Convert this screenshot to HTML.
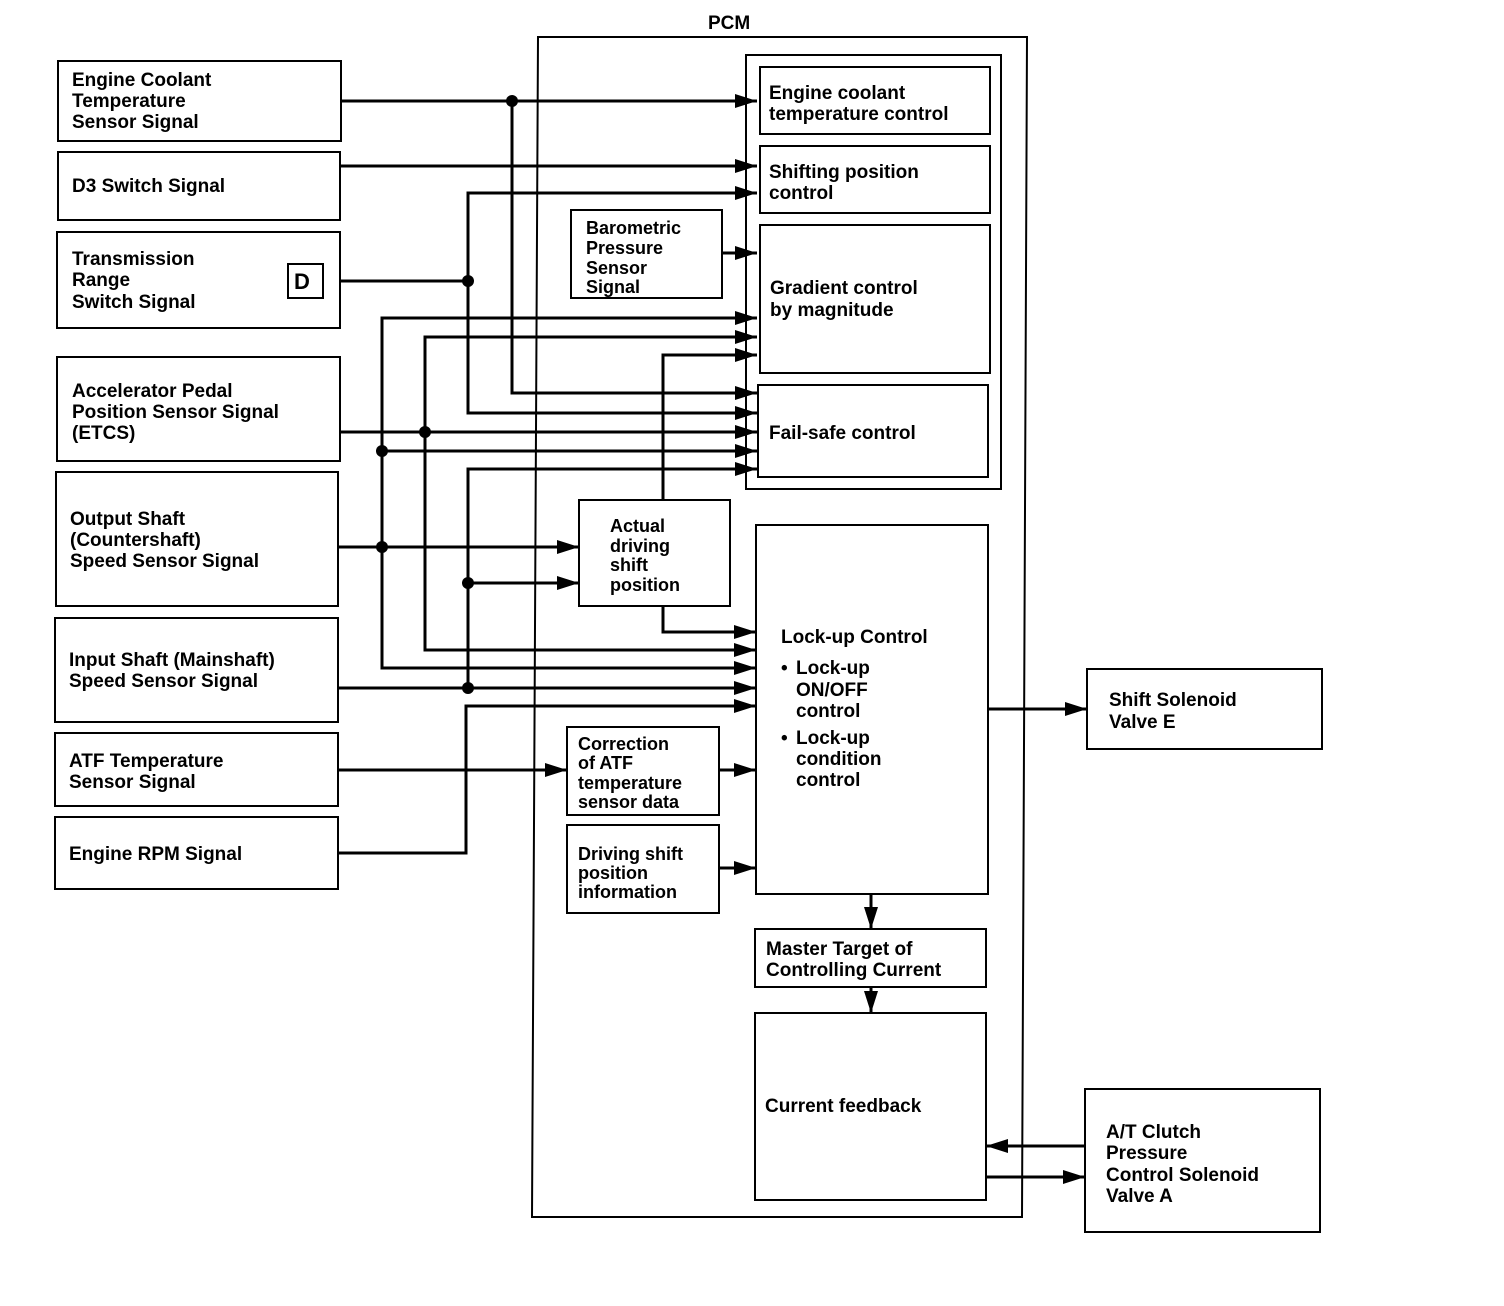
<!DOCTYPE html>
<html><head><meta charset="utf-8"><style>
html,body{margin:0;padding:0;background:#fff;}
svg{display:block;}
text{font-family:"Liberation Sans",sans-serif;font-weight:bold;font-size:19px;fill:#000;}
</style></head><body>
<svg width="1504" height="1306" viewBox="0 0 1504 1306" xmlns="http://www.w3.org/2000/svg">
<defs>
<marker id="a" markerWidth="10" markerHeight="8" refX="10" refY="4" orient="auto" markerUnits="userSpaceOnUse" viewBox="0 0 10 8">
<path d="M0,0 L10,4 L0,8 z" fill="#000"/></marker>
<marker id="b" markerWidth="22" markerHeight="14" refX="22" refY="7" orient="auto" markerUnits="userSpaceOnUse" viewBox="0 0 22 14">
<path d="M0,0 L22,7 L0,14 z" fill="#000"/></marker>
</defs>
<g fill="none" stroke="#000" stroke-width="2">
<!-- PCM -->
<path d="M538,37 L1027,37 L1022,1217 L532,1217 Z"/>
<rect x="746" y="55" width="255" height="434"/>
<rect x="760" y="67" width="230" height="67"/>
<rect x="760" y="146" width="230" height="67"/>
<rect x="760" y="225" width="230" height="148"/>
<rect x="758" y="385" width="230" height="92"/>
<rect x="571" y="210" width="151" height="88"/>
<rect x="579" y="500" width="151" height="106"/>
<rect x="756" y="525" width="232" height="369"/>
<rect x="567" y="727" width="152" height="88"/>
<rect x="567" y="825" width="152" height="88"/>
<rect x="755" y="929" width="231" height="58"/>
<rect x="755" y="1013" width="231" height="187"/>
<rect x="1087" y="669" width="235" height="80"/>
<rect x="1085" y="1089" width="235" height="143"/>
<!-- left boxes -->
<rect x="58" y="61" width="283" height="80"/>
<rect x="58" y="152" width="282" height="68"/>
<rect x="57" y="232" width="283" height="96"/>
<rect x="288" y="264" width="35" height="34"/>
<rect x="57" y="357" width="283" height="104"/>
<rect x="56" y="472" width="282" height="134"/>
<rect x="55" y="618" width="283" height="104"/>
<rect x="55" y="733" width="283" height="73"/>
<rect x="55" y="817" width="283" height="72"/>
</g>
<g fill="none" stroke="#000" stroke-width="3" marker-end="url(#b)">
<path d="M341,101 H757"/>
<path d="M512,101 V393 H757"/>
<path d="M340,166 H757"/>
<path d="M468,281 V193 H757"/>
<path d="M340,281 H468 V413 H757"/>
<path d="M722,253 H757"/>
<path d="M382,451 V318 H757"/>
<path d="M425,432 V337 H757"/>
<path d="M663,500 V355 H757"/>
<path d="M340,432 H757"/>
<path d="M382,451 H757"/>
<path d="M468,688 V469 H757"/>
<path d="M338,547 H579"/>
<path d="M468,583 H579"/>
<path d="M663,606 V632 H756"/>
<path d="M425,432 V650 H756"/>
<path d="M382,451 V668 H756"/>
<path d="M338,688 H756"/>
<path d="M338,853 H466 V706 H756"/>
<path d="M338,770 H567"/>
<path d="M719,770 H756"/>
<path d="M719,868 H756"/>
<path d="M988,709 H1087"/>
<path d="M871,894 V929"/>
<path d="M871,987 V1013"/>
<path d="M1085,1146 H986"/>
<path d="M986,1177 H1085"/>
</g>
<g fill="#000">
<circle cx="512" cy="101" r="6"/><circle cx="468" cy="281" r="6"/>
<circle cx="425" cy="432" r="6"/><circle cx="382" cy="451" r="6"/>
<circle cx="382" cy="547" r="6"/><circle cx="468" cy="583" r="6"/>
<circle cx="468" cy="688" r="6"/>
</g>
<text x="708" y="29">PCM</text>
<text x="72" y="86">Engine Coolant</text><text x="72" y="107">Temperature</text><text x="72" y="128">Sensor Signal</text>
<text x="72" y="192">D3 Switch Signal</text>
<text x="72" y="265">Transmission</text><text x="72" y="286">Range</text><text x="72" y="308">Switch Signal</text>
<text x="294" y="289" style="font-size:22px">D</text>
<text x="72" y="397">Accelerator Pedal</text><text x="72" y="418">Position Sensor Signal</text><text x="72" y="439">(ETCS)</text>
<text x="70" y="525">Output Shaft</text><text x="70" y="546">(Countershaft)</text><text x="70" y="567">Speed Sensor Signal</text>
<text x="69" y="666">Input Shaft (Mainshaft)</text><text x="69" y="687">Speed Sensor Signal</text>
<text x="69" y="767">ATF Temperature</text><text x="69" y="788">Sensor Signal</text>
<text x="69" y="860">Engine RPM Signal</text>
<text x="769" y="99">Engine coolant</text><text x="769" y="120">temperature control</text>
<text x="769" y="178">Shifting position</text><text x="769" y="199">control</text>
<text x="586" y="234" style="font-size:18px">Barometric</text><text x="586" y="254" style="font-size:18px">Pressure</text><text x="586" y="274" style="font-size:18px">Sensor</text><text x="586" y="293" style="font-size:18px">Signal</text>
<text x="770" y="294">Gradient control</text><text x="770" y="316">by magnitude</text>
<text x="769" y="439">Fail-safe control</text>
<text x="610" y="532" style="font-size:18px">Actual</text><text x="610" y="552" style="font-size:18px">driving</text><text x="610" y="571" style="font-size:18px">shift</text><text x="610" y="591" style="font-size:18px">position</text>
<text x="781" y="643">Lock-up Control</text>
<text x="781" y="674">•</text><text x="796" y="674">Lock-up</text><text x="796" y="696">ON/OFF</text><text x="796" y="717">control</text>
<text x="781" y="744">•</text><text x="796" y="744">Lock-up</text><text x="796" y="765">condition</text><text x="796" y="786">control</text>
<text x="578" y="750" style="font-size:18px">Correction</text><text x="578" y="769" style="font-size:18px">of ATF</text><text x="578" y="789" style="font-size:18px">temperature</text><text x="578" y="808" style="font-size:18px">sensor data</text>
<text x="578" y="860" style="font-size:18px">Driving shift</text><text x="578" y="879" style="font-size:18px">position</text><text x="578" y="898" style="font-size:18px">information</text>
<text x="766" y="955">Master Target of</text><text x="766" y="976">Controlling Current</text>
<text x="765" y="1112">Current feedback</text>
<text x="1109" y="706">Shift Solenoid</text><text x="1109" y="728">Valve E</text>
<text x="1106" y="1138">A/T Clutch</text><text x="1106" y="1159">Pressure</text><text x="1106" y="1181">Control Solenoid</text><text x="1106" y="1202">Valve A</text>
</svg>
</body></html>
